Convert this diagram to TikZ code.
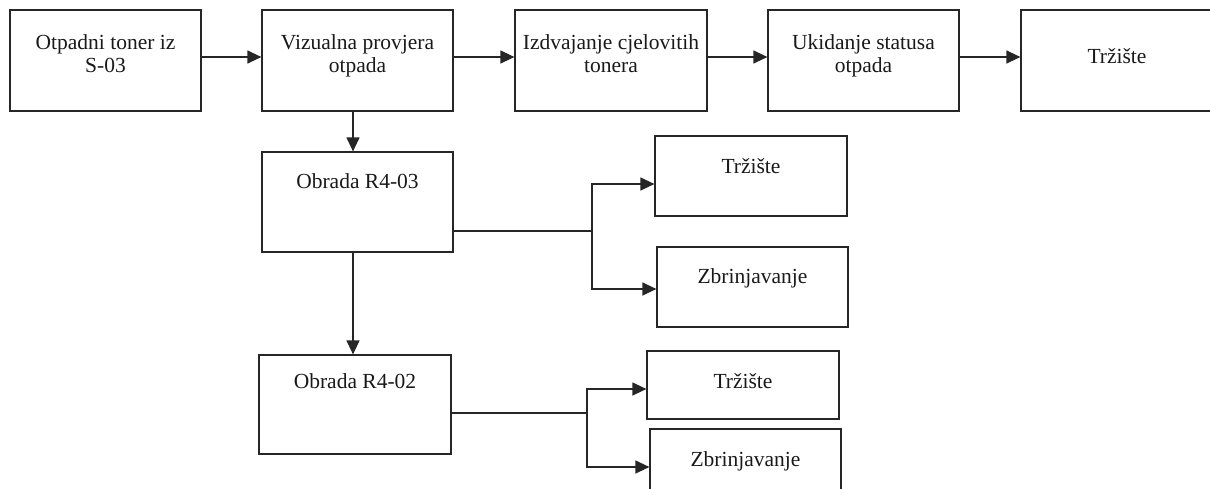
\documentclass[tikz,border=0pt]{standalone}
\usepackage{fontspec}
\setmainfont{Liberation Serif}
\usetikzlibrary{arrows.meta}
\tikzset{
  box/.style={draw=black!85, line width=1.2pt, rectangle, inner sep=0pt},
  lbl/.style={anchor=north, inner sep=0pt, align=center, font=\fontsize{21.5}{23}\selectfont, text=black!90},
  arr/.style={draw=black!85, line width=1.2pt, -{Triangle[length=14pt,width=13pt]}},
  ln/.style={draw=black!85, line width=1.2pt},
}
\begin{document}
\begin{tikzpicture}[x=1pt,y=-1pt]
\useasboundingbox (0,0) rectangle (1210,488);
% boxes: center (x,y), width, height
\node[box, minimum width=191pt, minimum height=101pt] (b1) at (105.5,60.5) {};
\node[box, minimum width=191pt, minimum height=101pt] (b2) at (357.5,60.5) {};
\node[box, minimum width=192pt, minimum height=101pt] (b3) at (611,60.5) {};
\node[box, minimum width=191pt, minimum height=101pt] (b4) at (863.5,60.5) {};
\node[box, minimum width=192pt, minimum height=101pt] (b5) at (1117,60.5) {};
\node[box, minimum width=191pt, minimum height=100pt] (r3) at (357.5,202) {};
\node[box, minimum width=192pt, minimum height=80pt] (t1) at (751,176) {};
\node[box, minimum width=191pt, minimum height=80pt] (z1) at (752.5,287) {};
\node[box, minimum width=192pt, minimum height=99pt] (r2) at (355,404.5) {};
\node[box, minimum width=192pt, minimum height=68pt] (t2) at (743,385) {};
\node[box, minimum width=191pt, minimum height=80pt] (z2) at (745.5,469) {};
% labels
\node[lbl] (l1) at ([yshift=-24pt]b1.north) {\strut Otpadni toner iz\\S-03};
\node[lbl] (l2) at ([yshift=-24pt]b2.north) {\strut Vizualna provjera\\otpada};
\node[lbl] (l3) at ([yshift=-24pt]b3.north) {\strut Izdvajanje cjelovitih\\tonera};
\node[lbl] (l4) at ([yshift=-24pt]b4.north) {\strut Ukidanje statusa\\otpada};
\node[lbl] (l5) at ([yshift=-38pt]b5.north) {\strut Tržište};
\node[lbl] (l6) at ([yshift=-21pt]r3.north) {\strut Obrada R4-03};
\node[lbl] (l7) at ([yshift=-22pt]t1.north) {\strut Tržište};
\node[lbl] (l8) at ([yshift=-21pt]z1.north) {\strut Zbrinjavanje};
\node[lbl] (l9) at ([yshift=-18pt]r2.north) {\strut Obrada R4-02};
\node[lbl] (l10) at ([yshift=-22pt]t2.north) {\strut Tržište};
\node[lbl] (l11) at ([yshift=-22pt]z2.north) {\strut Zbrinjavanje};
% top row arrows
\draw[arr] ([yshift=3.5pt]b1.east) -- ([yshift=3.5pt]b2.west);
\draw[arr] ([yshift=3.5pt]b2.east) -- ([yshift=3.5pt]b3.west);
\draw[arr] ([yshift=3.5pt]b3.east) -- ([yshift=3.5pt]b4.west);
\draw[arr] ([yshift=3.5pt]b4.east) -- ([yshift=3.5pt]b5.west);
% vertical arrows
\draw[arr] ([xshift=-4.5pt]b2.south) -- ([xshift=-4.5pt]r3.north);
\draw[arr] ([xshift=-4.5pt]r3.south) -- ([xshift=-2pt]r2.north);
% branch from R4-03
\coordinate (s1) at (592,231);
\draw[ln] ([yshift=-29pt]r3.east) -- (s1);
\draw[arr] (s1) |- ([yshift=-8pt]t1.west);
\draw[arr] (s1) |- ([yshift=-2pt]z1.west);
% branch from R4-02
\coordinate (s2) at (587,413);
\draw[ln] ([yshift=-8.5pt]r2.east) -- (s2);
\draw[arr] (s2) |- ([yshift=-4pt]t2.west);
\draw[arr] (s2) |- ([yshift=2pt]z2.west);
\end{tikzpicture}
\end{document}
